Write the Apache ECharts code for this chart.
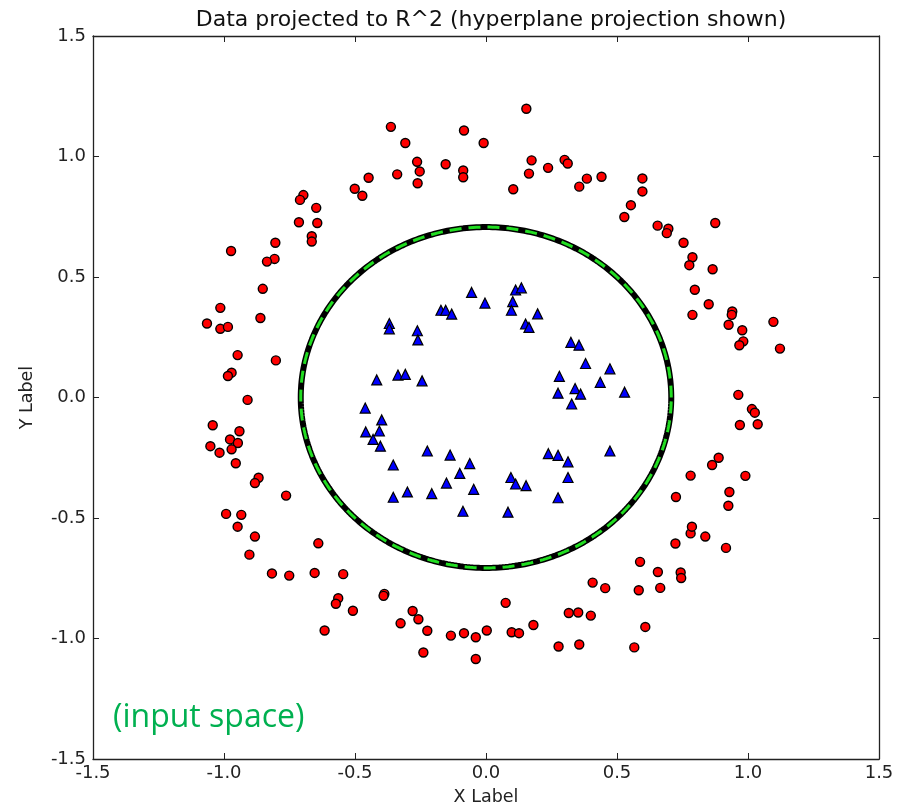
<!DOCTYPE html>
<html>
<head>
<meta charset="utf-8">
<script src="https://cdn.jsdelivr.net/npm/echarts@6/dist/echarts.min.js"></script>
<style>html,body{margin:0;padding:0;background:#fff}#c{width:900px;height:811px}</style>
</head>
<body>
<div id="c"></div>
<script>
// Outer class (red circles): [x, y]
const redPoints = [
[-0.363,1.123],[-0.308,1.056],[-0.084,1.108],[-0.009,1.056],[-0.263,0.978],[-0.253,0.938],
[-0.154,0.968],[-0.087,0.942],[-0.087,0.914],[-0.261,0.889],[-0.339,0.926],[-0.448,0.912],
[-0.501,0.866],[-0.472,0.837],[-0.697,0.840],[-0.710,0.820],[-0.648,0.787],[-0.714,0.727],
[-0.644,0.724],[-0.665,0.669],[-0.665,0.647],[-0.804,0.642],[-0.807,0.575],[-0.836,0.564],
[-0.973,0.608],[-0.852,0.451],[-1.014,0.372],
[0.154,1.198],[0.174,0.984],[0.164,0.929],[0.237,0.953],[0.300,0.986],[0.312,0.971],
[0.104,0.864],[0.356,0.875],[0.385,0.908],[0.441,0.916],[0.597,0.909],[0.597,0.855],
[0.553,0.798],[0.528,0.749],[0.655,0.713],[0.696,0.700],[0.690,0.682],[0.875,0.724],
[0.754,0.642],[0.788,0.582],[0.776,0.549],[0.865,0.532],[0.797,0.447],[0.850,0.387],
[0.788,0.343],[0.940,0.357],[0.938,0.343],[0.926,0.302],[0.978,0.279],[1.097,0.314],
[0.982,0.233],[0.967,0.217],[1.122,0.203],[0.963,0.011],[1.015,-0.048],[1.026,-0.063],
[0.969,-0.114],[1.037,-0.111],[0.888,-0.250],[0.863,-0.280],[0.781,-0.324],[0.990,-0.325],
[0.929,-0.392],[0.925,-0.449],[0.725,-0.413],
[-1.065,0.307],[-1.014,0.285],[-0.985,0.293],[-0.861,0.330],[-0.948,0.176],[-0.802,0.154],
[-0.971,0.103],[-0.985,0.089],[-0.910,-0.010],[-1.043,-0.115],[-0.941,-0.140],[-0.977,-0.174],
[-0.947,-0.189],[-1.052,-0.202],[-0.971,-0.215],[-1.017,-0.229],[-0.955,-0.273],[-0.868,-0.333],
[-0.882,-0.355],[-0.763,-0.407],[-0.992,-0.483],[-0.934,-0.487],
[-0.948,-0.536],[-0.882,-0.577],[-0.640,-0.605],[-0.903,-0.652],[-0.817,-0.730],[-0.751,-0.739],
[-0.654,-0.728],[-0.545,-0.733],[-0.388,-0.815],[-0.391,-0.823],[-0.564,-0.833],[-0.573,-0.856],
[-0.508,-0.885],[-0.616,-0.967],[-0.280,-0.886],[-0.258,-0.920],[-0.326,-0.937],[-0.224,-0.968],
[-0.239,-1.058],[-0.134,-0.988],[-0.084,-0.978],[-0.039,-0.995],[0.003,-0.967],[-0.039,-1.085],
[0.075,-0.852],
[0.098,-0.974],[0.126,-0.978],[0.181,-0.944],[0.277,-1.033],[0.356,-1.025],[0.316,-0.894],
[0.352,-0.892],[0.400,-0.905],[0.407,-0.768],[0.455,-0.791],[0.588,-0.682],[0.583,-0.800],
[0.656,-0.724],[0.665,-0.790],[0.743,-0.726],[0.745,-0.749],[0.608,-0.952],[0.566,-1.037],
[0.723,-0.606],[0.781,-0.564],[0.786,-0.536],[0.837,-0.577],[0.916,-0.624]
];
// Inner class (blue triangles): [x, y]
const bluePoints = [
[-0.004,0.392],[0.113,0.446],[0.135,0.455],[0.102,0.398],[0.097,0.362],[0.197,0.347],
[0.151,0.305],[0.164,0.291],[0.324,0.229],[0.355,0.217],[0.380,0.141],[0.473,0.119],
[0.280,0.088],[0.436,0.063],[0.340,0.037],[0.275,0.018],[0.361,0.014],[0.529,0.022],
[0.327,-0.027],[0.238,-0.233],[0.275,-0.240],[0.313,-0.267],[0.473,-0.222],[0.095,-0.332],
[0.113,-0.359],[0.153,-0.366],[0.313,-0.332],[0.275,-0.416],[0.084,-0.476],
[-0.055,0.436],[-0.172,0.362],[-0.154,0.362],[-0.131,0.346],[-0.369,0.307],[-0.369,0.285],
[-0.262,0.277],[-0.260,0.239],[-0.417,0.073],[-0.336,0.093],[-0.308,0.096],[-0.244,0.069],
[-0.461,-0.044],[-0.398,-0.093],[-0.459,-0.143],[-0.407,-0.139],[-0.431,-0.174],[-0.403,-0.202],
[-0.224,-0.222],[-0.137,-0.239],[-0.354,-0.280],[-0.062,-0.274],[-0.100,-0.315],[-0.151,-0.355],
[-0.047,-0.381],[-0.300,-0.392],[-0.207,-0.399],[-0.354,-0.414],[-0.088,-0.472]
];
// Decision boundary (hyperplane projection) radius
const boundaryRadius = Math.sqrt(0.5);

const circle = [];
for (let i = 0; i <= 720; i++) {
  const t = i / 720 * 2 * Math.PI;
  circle.push([boundaryRadius * Math.cos(t), boundaryRadius * Math.sin(t)]);
}

const font = 'DejaVu Sans';
const chart = echarts.init(document.getElementById('c'), null, {renderer: 'canvas'});
const axisCommon = {
  type: 'value', min: -1.5, max: 1.5, interval: 0.5,
  axisLine: {show: true, onZero: false, lineStyle: {color: '#222', width: 1.3}},
  axisTick: {show: true, inside: true, length: 6, lineStyle: {color: '#222', width: 1}},
  splitLine: {show: false}
};
chart.setOption({
  animation: false,
  backgroundColor: '#fff',
  title: {
    text: 'Data projected to R^2 (hyperplane projection shown)',
    left: 486, top: 4, textAlign: 'center',
    textStyle: {fontFamily: font, fontSize: 22, fontWeight: 'normal', color: '#111'}
  },
  grid: {left: 93, top: 36, right: 21, bottom: 46},
  xAxis: [
    Object.assign({}, axisCommon, {
      position: 'bottom',
      name: 'X Label', nameLocation: 'middle', nameGap: 29,
      nameTextStyle: {fontFamily: font, fontSize: 17.5, color: '#222'},
      axisLabel: {fontFamily: font, fontSize: 18, color: '#222', margin: 5,
        formatter: v => v.toFixed(1)}
    }),
    Object.assign({}, axisCommon, {position: 'top', axisLabel: {show: false}})
  ],
  yAxis: [
    Object.assign({}, axisCommon, {
      position: 'left',
      name: 'Y Label', nameLocation: 'middle', nameGap: 57, nameRotate: 90,
      nameTextStyle: {fontFamily: font, fontSize: 17.5, color: '#222'},
      axisLabel: {fontFamily: font, fontSize: 18, color: '#222', margin: 7,
        formatter: v => v.toFixed(1)}
    }),
    Object.assign({}, axisCommon, {position: 'right', axisLabel: {show: false}})
  ],
  graphic: [{
    type: 'text', left: 113, top: 702,
    style: {text: '(input space)', fontFamily: 'Open Sans', fontSize: 32, fill: '#00b050'}
  }],
  series: [
    {
      type: 'line', data: circle, showSymbol: false, symbol: 'none', smooth: false,
      lineStyle: {color: '#000', width: 6}, z: 2, silent: true
    },
    {
      type: 'line', data: circle, showSymbol: false, symbol: 'none', smooth: false,
      lineStyle: {color: '#22dd22', width: 3, type: [12, 7]}, z: 3, silent: true
    },
    {
      type: 'scatter', data: redPoints, symbol: 'circle', symbolSize: 9,
      itemStyle: {color: '#ff0000', borderColor: '#000', borderWidth: 1.4, opacity: 1}, z: 4
    },
    {
      type: 'scatter', data: bluePoints, symbol: 'triangle', symbolSize: 10,
      itemStyle: {color: '#0000ff', borderColor: '#000', borderWidth: 1.2, opacity: 1}, z: 4
    }
  ]
});
</script>
</body>
</html>
